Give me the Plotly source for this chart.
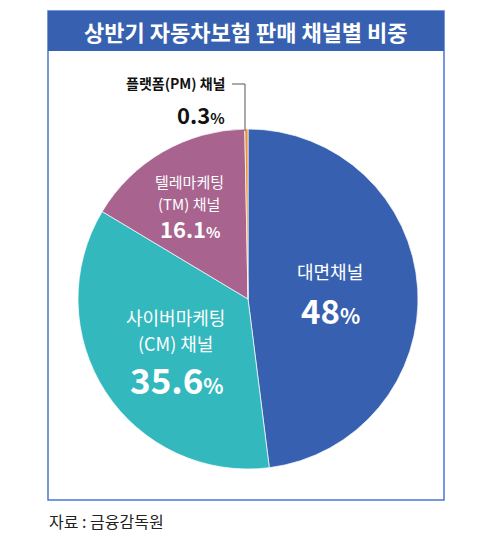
import plotly.graph_objects as go

# data
channels = ['대면채널', '사이버마케팅 (CM) 채널', '텔레마케팅 (TM) 채널', '플랫폼(PM) 채널']
shares = [48, 35.6, 16.1, 0.3]
colors = ['#3761B0', '#33B8BE', '#A8648F', '#E8913A']

# the page body has an 8px default margin, so the figure is drawn
# 8px smaller and every position below is given in window pixels
OFF = 8
W, H = 500 - OFF, 538 - OFF
CX, CY, R = 248, 299, 170  # pie centre / radius in window pixels

FONT = 'Noto Sans CJK KR'


def px(x):
    return (x - OFF) / W


def py(y):
    return 1 - (y - OFF) / H


fig = go.Figure()

fig.add_trace(go.Pie(
    labels=channels,
    values=shares,
    sort=False,
    direction='clockwise',
    rotation=0,
    marker=dict(colors=colors, line=dict(color='rgba(255,255,255,0.7)', width=1)),
    textinfo='none',
    hoverinfo='label+percent',
    showlegend=False,
    domain=dict(x=[px(CX - R), px(CX + R)], y=[py(CY + R), py(CY - R)]),
))


def label(x, y, text, size, color='white', bold=False, xanchor='center'):
    if bold:
        text = f'<b>{text}</b>'
    return dict(
        x=px(x), y=py(y), xref='paper', yref='paper',
        text=text, showarrow=False, xanchor=xanchor, yanchor='middle',
        font=dict(family=FONT, size=size, color=color),
    )


def pct(num, small):
    return f"{num}<span style='font-size:{small}px'>%</span>"


annotations = [
    label(246, 31, '상반기 자동차보험 판매 채널별 비중', 22, bold=True),
    label(330, 271, channels[0], 18),
    label(330, 310, pct(shares[0], 21), 33, bold=True),
    label(175, 317, '사이버마케팅', 18),
    label(175, 343, '(CM) 채널', 18),
    label(177, 378, pct(shares[1], 21), 35, bold=True),
    label(189, 182, '텔레마케팅', 15),
    label(189, 203, '(TM) 채널', 15),
    label(190, 228, pct(shares[2], 15), 22, bold=True),
    label(227, 83, channels[3], 14, color='#111111', bold=True, xanchor='right'),
    label(227, 114, pct(shares[3], 15), 22, color='#111111', bold=True, xanchor='right'),
    label(47, 521, '자료 : 금융감독원', 16, color='#222222', xanchor='left'),
]

shapes = [
    # outer frame
    dict(type='rect', xref='paper', yref='paper', x0=px(48), x1=px(444), y0=py(500), y1=py(11),
         line=dict(color='#4A78D2', width=1.5), fillcolor='rgba(0,0,0,0)', layer='below'),
    # title band
    dict(type='rect', xref='paper', yref='paper', x0=px(48), x1=px(444), y0=py(51), y1=py(11),
         line=dict(width=0), fillcolor='#3761B0', layer='below'),
    # leader line for the small slice
    dict(type='path', xref='paper', yref='paper',
         path=f'M {px(232)},{py(84)} L {px(245)},{py(84)} L {px(245)},{py(131)}',
         line=dict(color='#555555', width=1)),
]

fig.update_layout(
    width=W, height=H,
    margin=dict(l=0, r=0, t=0, b=0),
    paper_bgcolor='white',
    plot_bgcolor='white',
    annotations=annotations,
    shapes=shapes,
    font=dict(family=FONT),
)

fig.write_html('out.html')
